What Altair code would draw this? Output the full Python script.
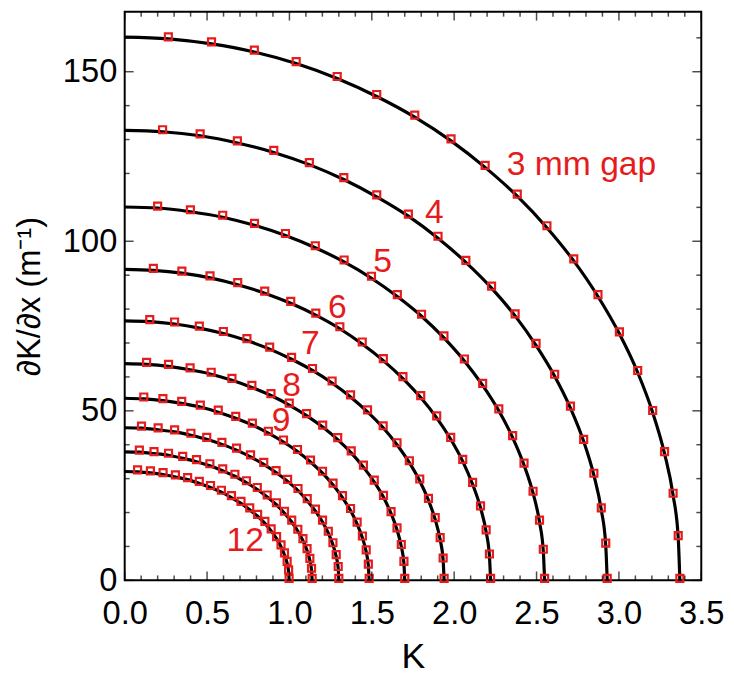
import altair as alt
import pandas as pd

# ---------------- data ----------------
gaps = [3, 4, 5, 6, 7, 8, 9, 10, 11, 12]
# axis intercepts of each black curve
k_max = [3.370, 2.929, 2.549, 2.221, 1.939, 1.700, 1.484, 1.300, 1.138, 0.998]
v_max = [160.2, 132.7, 110.1, 91.7, 76.5, 63.9, 53.7, 45.0, 37.9, 32.1]

# red square markers (K, dK/dx) per gap
k_3 = [0.265, 0.527, 0.787, 1.041, 1.290, 1.530, 1.761, 1.981, 2.188, 2.383, 2.563, 2.726, 2.873, 3.003, 3.114, 3.205, 3.277, 3.329, 3.360, 3.370]
v_3 = [159.7, 158.2, 155.8, 152.4, 148.0, 142.7, 136.6, 129.6, 121.8, 113.3, 104.0, 94.2, 83.7, 72.7, 61.3, 49.5, 37.4, 25.1, 12.6, 0.0]
k_4 = [0.230, 0.458, 0.684, 0.905, 1.121, 1.330, 1.530, 1.722, 1.902, 2.071, 2.227, 2.370, 2.497, 2.610, 2.706, 2.786, 2.848, 2.893, 2.920, 2.929]
v_4 = [132.3, 131.1, 129.0, 126.2, 122.6, 118.2, 113.1, 107.4, 100.9, 93.8, 86.2, 78.0, 69.3, 60.2, 50.8, 41.0, 31.0, 20.8, 10.4, 0.0]
k_5 = [0.200, 0.399, 0.595, 0.788, 0.976, 1.157, 1.332, 1.498, 1.655, 1.802, 1.938, 2.062, 2.173, 2.271, 2.355, 2.424, 2.479, 2.518, 2.541, 2.549]
v_5 = [109.8, 108.7, 107.1, 104.7, 101.7, 98.1, 93.9, 89.1, 83.7, 77.9, 71.5, 64.7, 57.5, 50.0, 42.1, 34.0, 25.7, 17.2, 8.6, 0.0]
k_6 = [0.174, 0.347, 0.518, 0.686, 0.850, 1.008, 1.160, 1.306, 1.442, 1.570, 1.689, 1.797, 1.894, 1.979, 2.052, 2.112, 2.160, 2.194, 2.214, 2.221]
v_6 = [91.4, 90.6, 89.2, 87.2, 84.7, 81.7, 78.2, 74.2, 69.7, 64.8, 59.5, 53.9, 47.9, 41.6, 35.1, 28.3, 21.4, 14.3, 7.2, 0.0]
k_7 = [0.152, 0.303, 0.453, 0.599, 0.742, 0.880, 1.013, 1.140, 1.259, 1.371, 1.474, 1.569, 1.653, 1.728, 1.791, 1.844, 1.885, 1.915, 1.933, 1.939]
v_7 = [76.3, 75.6, 74.4, 72.8, 70.7, 68.2, 65.2, 61.9, 58.2, 54.1, 49.7, 45.0, 40.0, 34.7, 29.3, 23.6, 17.9, 12.0, 6.0, 0.0]
k_8 = [0.133, 0.266, 0.397, 0.525, 0.651, 0.772, 0.888, 0.999, 1.104, 1.202, 1.293, 1.375, 1.449, 1.515, 1.571, 1.617, 1.653, 1.679, 1.695, 1.700]
v_8 = [63.7, 63.1, 62.1, 60.8, 59.0, 56.9, 54.5, 51.7, 48.6, 45.2, 41.5, 37.6, 33.4, 29.0, 24.5, 19.7, 14.9, 10.0, 5.0, 0.0]
k_9 = [0.116, 0.232, 0.346, 0.459, 0.568, 0.674, 0.775, 0.872, 0.964, 1.049, 1.128, 1.201, 1.265, 1.322, 1.371, 1.411, 1.443, 1.466, 1.479, 1.484]
v_9 = [53.5, 53.0, 52.2, 51.1, 49.6, 47.8, 45.8, 43.4, 40.8, 38.0, 34.9, 31.6, 28.1, 24.4, 20.6, 16.6, 12.5, 8.4, 4.2, 0.0]
k_10 = [0.102, 0.203, 0.303, 0.402, 0.498, 0.590, 0.679, 0.764, 0.844, 0.919, 0.989, 1.052, 1.108, 1.158, 1.201, 1.236, 1.264, 1.284, 1.296, 1.300]
v_10 = [44.9, 44.4, 43.8, 42.8, 41.6, 40.1, 38.4, 36.4, 34.2, 31.8, 29.2, 26.5, 23.5, 20.4, 17.2, 13.9, 10.5, 7.0, 3.5, 0.0]
k_11 = [0.089, 0.178, 0.266, 0.352, 0.436, 0.517, 0.595, 0.669, 0.739, 0.805, 0.865, 0.921, 0.970, 1.014, 1.051, 1.082, 1.107, 1.124, 1.134, 1.138]
v_11 = [37.8, 37.4, 36.9, 36.0, 35.0, 33.8, 32.3, 30.7, 28.8, 26.8, 24.6, 22.3, 19.8, 17.2, 14.5, 11.7, 8.8, 5.9, 3.0, 0.0]
k_12 = [0.078, 0.156, 0.233, 0.308, 0.382, 0.453, 0.521, 0.587, 0.648, 0.706, 0.759, 0.807, 0.851, 0.889, 0.922, 0.949, 0.970, 0.986, 0.995, 0.998]
v_12 = [32.0, 31.7, 31.2, 30.5, 29.7, 28.6, 27.4, 26.0, 24.4, 22.7, 20.8, 18.9, 16.8, 14.6, 12.3, 9.9, 7.5, 5.0, 2.5, 0.0]

label_text = ["3 mm gap", "4", "5", "6", "7", "8", "9", "12"]
label_k = [2.773, 1.879, 1.565, 1.291, 1.127, 1.013, 0.950, 0.732]
label_v = [122.6, 108.4, 94.0, 80.4, 69.7, 57.3, 47.1, 11.5]

x_major = [0.0, 0.5, 1.0, 1.5, 2.0, 2.5, 3.0, 3.5]
x_minor = [0.1, 0.2, 0.3, 0.4, 0.6, 0.7, 0.8, 0.9, 1.1, 1.2, 1.3, 1.4, 1.6, 1.7, 1.8, 1.9,
           2.1, 2.2, 2.3, 2.4, 2.6, 2.7, 2.8, 2.9, 3.1, 3.2, 3.3, 3.4]
y_major = [0, 50, 100, 150]
y_minor = [10, 20, 30, 40, 60, 70, 80, 90, 110, 120, 130, 140, 160]

X_LO, X_HI = 0.0, 3.5
Y_LO, Y_HI = 0.0, 167.7

# ---------------- tables ----------------
marker_k = [k_3, k_4, k_5, k_6, k_7, k_8, k_9, k_10, k_11, k_12]
marker_v = [v_3, v_4, v_5, v_6, v_7, v_8, v_9, v_10, v_11, v_12]

pts_rows, line_rows = [], []
for g, km, vm, ks, vs in zip(gaps, k_max, v_max, marker_k, marker_v):
    line_rows.append({"gap": g, "K": 0.0, "V": vm, "o": 0})
    for i, (k, v) in enumerate(zip(ks, vs)):
        pts_rows.append({"gap": g, "K": k, "V": v})
        line_rows.append({"gap": g, "K": k, "V": v, "o": i + 1})
pts = pd.DataFrame(pts_rows)
lines = pd.DataFrame(line_rows)
labels = pd.DataFrame({"t": label_text, "K": label_k, "V": label_v})

W, H = 583, 575
FONT = "Liberation Sans"
RED = "#e61c1c"

xs = alt.Scale(domain=[X_LO, X_HI], nice=False, zero=False)
ys = alt.Scale(domain=[Y_LO, Y_HI], nice=False, zero=False)

# black fitted curves + labelled axes
line_layer = alt.Chart(lines).mark_line(
    color="black", strokeWidth=3.2, interpolate="monotone"
).encode(
    x=alt.X("K:Q", scale=xs, axis=alt.Axis(
        values=x_major, format=".1f", ticks=False, domain=False, grid=False,
        labelFontSize=33, labelFont=FONT, labelColor="black", labelPadding=18,
        title="K", titleFont=FONT, titleFontSize=36, titleFontWeight="normal",
        titleColor="black", titlePadding=9, labelFlush=False)),
    y=alt.Y("V:Q", scale=ys, axis=alt.Axis(
        values=y_major, ticks=False, domain=False, grid=False,
        labelFontSize=33, labelFont=FONT, labelColor="black", labelPadding=8,
        title="∂K/∂x (m⁻¹)", titleFont=FONT, titleFontSize=33,
        titleFontWeight="normal", titleColor="black", titlePadding=16)),
    detail="gap:N",
    order="o:Q",
)

point_layer = alt.Chart(pts).mark_point(
    shape="square", filled=False, size=50, strokeWidth=2.2, color=RED,
    opacity=1, yOffset=-2
).encode(
    x=alt.X("K:Q", scale=xs),
    y=alt.Y("V:Q", scale=ys),
)

text_layer = alt.Chart(labels).mark_text(
    font=FONT, fontSize=34, color=RED, align="center", baseline="middle"
).encode(
    x=alt.X("K:Q", scale=xs),
    y=alt.Y("V:Q", scale=ys),
    text="t:N",
)


# inward ticks on all four sides of the frame
def x_ticks(values, at, size, off):
    return alt.Chart(pd.DataFrame({"v": values})).mark_tick(
        orient="vertical", size=size, thickness=1.5, color="black", yOffset=off
    ).encode(
        x=alt.X("v:Q", scale=xs),
        y=alt.Y(datum=at, scale=ys),
    )


def y_ticks(values, at, size, off):
    return alt.Chart(pd.DataFrame({"v": values})).mark_tick(
        orient="horizontal", size=size, thickness=1.5, color="black", xOffset=off
    ).encode(
        y=alt.Y("v:Q", scale=ys),
        x=alt.X(datum=at, scale=xs),
    )


tick_layers = [
    x_ticks(x_major, Y_LO, 9, -4.5),
    x_ticks(x_minor, Y_LO, 5, -2.5),
    x_ticks(x_major, Y_HI, 9, 4.5),
    x_ticks(x_minor, Y_HI, 5, 2.5),
    y_ticks(y_major, X_LO, 9, 4.5),
    y_ticks(y_minor, X_LO, 5, 2.5),
    y_ticks(y_major, X_HI, 9, -4.5),
    y_ticks(y_minor, X_HI, 5, -2.5),
]

chart = alt.layer(
    line_layer, point_layer, text_layer, *tick_layers
).properties(
    width=W, height=H,
    autosize=alt.AutoSizeParams(type="none"),
    padding={"left": 118, "top": 0, "right": 25, "bottom": 96},
    background="white",
).configure_view(
    stroke="black", strokeWidth=2
)

chart.save("out.html", embed_options={"renderer": "svg", "actions": False})
